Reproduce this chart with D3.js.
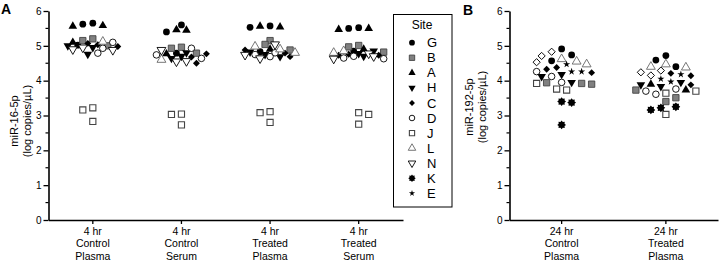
<!DOCTYPE html>
<html><head><meta charset="utf-8">
<script src="https://cdn.jsdelivr.net/npm/d3@7"></script>
<style>
body{margin:0;background:#fff}
svg{display:block}
text{font-family:"Liberation Sans",Arial,sans-serif;fill:#000}
</style>
</head><body><svg id="chart" width="720" height="262"></svg>
<script>
// ---------- categories / ticks ----------
const categoriesA = ["4 hr|Control|Plasma","4 hr|Control|Serum","4 hr|Treated|Plasma","4 hr|Treated|Serum"];
const categoriesB = ["24 hr|Control|Plasma","24 hr|Treated|Plasma"];
const yTicks = [0,1,2,3,4,5,6];
const legendSites = ["G","B","A","H","C","D","J","L","N","K","E"];
const yLabelA = ["miR-16-5p","(log copies/\u00b5L)"];
const yLabelB = ["miR-192-5p","(log copies/\u00b5L)"];

// ---------- Panel A (miR-16-5p): values per site, one list per category ----------
const A_G = [[5.62,5.65,5.02],[5.60,5.40,4.79],[5.53,5.57,4.83],[5.50,5.52,4.85]];
const A_B = [[5.20,5.15,5.00],[4.96,4.93,4.79],[5.15,5.04,4.88],[4.97,4.82,5.01]];
const A_A = [[5.56,5.58,5.10],[5.45,5.46,4.77],[5.56,5.54,4.90],[5.47,5.50,4.90]];
const A_H = [[4.76,4.95,5.00],[4.64,4.80,4.70],[4.69,4.75,4.82],[4.85,4.70,4.78]];
const A_C = [[5.07,4.98,5.03],[4.50,4.77,4.68],[4.88,4.69,4.79],[4.76,4.73,4.73]];
const A_D = [[4.79,5.10,4.93],[4.93,4.74,4.64],[4.69,4.80,4.75],[4.65,4.63,4.70]];
const A_J = [[3.22,3.16,2.83],[3.03,3.04,2.73],[3.11,3.08,2.80],[3.08,3.03,2.75]];
const A_L = [[5.12],[4.60],[4.90,4.98,4.80],[4.85,4.80]];
const A_N = [[4.90,4.88,4.95],[4.56,4.55,4.88],[5.04,4.74,4.64],[4.63,4.78,4.70]];

// ---------- Panel B (miR-192-5p) ----------
const B_G = [[4.74,4.91,4.57],[4.59,4.72,4.40]];
const B_F = [[4.71,4.83,4.53],[4.24,4.15,4.29]];   // open diamond (not listed in legend)
const B_L = [[4.47,4.55,4.62],[4.38,4.40,4.47]];
const B_E = [[4.26,4.47,4.26],[3.97,4.05,4.18]];
const B_C = [[4.23,4.33,4.38],[4.14,4.21,3.88]];
const B_D = [[4.12,4.26,3.95],[3.76,3.70,3.61]];
const B_H = [[3.95,4.12,4.18],[3.88,3.95,3.83]];
const B_A = [[],[3.73,3.90]];
const B_B = [[3.90,3.92,3.94],[3.51,3.73,3.40]];
const B_J = [[3.92,3.73,3.76],[3.64,3.70,3.03]];
const B_K = [[3.40,3.37,2.73],[3.22,3.16,3.25]];

const panelASeries = [["G",A_G],["B",A_B],["A",A_A],["H",A_H],["C",A_C],["D",A_D],["J",A_J],["L",A_L],["N",A_N]];
const panelBSeries = [["F",B_F],["G",B_G],["L",B_L],["E",B_E],["C",B_C],["D",B_D],["H",B_H],["A",B_A],["B",B_B],["J",B_J],["K",B_K]];

// ---------- marker styles ----------
const GREY = "#808080";
function splatPath(r){
  const pts=[];const n=8;
  for(let i=0;i<2*n;i++){const a=Math.PI*i/n - Math.PI/2;const rr=i%2?r*0.72:r;pts.push([rr*Math.cos(a),rr*Math.sin(a)]);}
  return "M"+pts.map(p=>p[0].toFixed(2)+","+p[1].toFixed(2)).join("L")+"Z";
}
function drawMarker(g, site, s){ // s = scale factor
  const sym=(type,size)=>d3.symbol().type(type).size(size*s*s)();
  switch(site){
    case "G": g.append("path").attr("d",sym(d3.symbolCircle,36)).attr("fill","#000");break;
    case "B": g.append("path").attr("d",sym(d3.symbolSquare,40)).attr("fill",GREY).attr("stroke","#444").attr("stroke-width",0.9);break;
    case "A": g.append("path").attr("d",sym(d3.symbolTriangle,32)).attr("fill","#000");break;
    case "H": g.append("path").attr("d",sym(d3.symbolTriangle,32)).attr("fill","#000").attr("transform","rotate(180)");break;
    case "C": g.append("path").attr("d",sym(d3.symbolSquare,24)).attr("fill","#000").attr("transform","rotate(45)");break;
    case "D": g.append("path").attr("d",sym(d3.symbolCircle,34)).attr("fill","#fff").attr("stroke","#000").attr("stroke-width",0.9);break;
    case "J": g.append("path").attr("d",sym(d3.symbolSquare,38)).attr("fill","#fff").attr("stroke","#444").attr("stroke-width",1.1);break;
    case "L": g.append("path").attr("d",sym(d3.symbolTriangle,34)).attr("fill","#fff").attr("stroke","#666").attr("stroke-width",0.9);break;
    case "N": g.append("path").attr("d",sym(d3.symbolTriangle,34)).attr("fill","#fff").attr("stroke","#000").attr("stroke-width",0.9).attr("transform","rotate(180)");break;
    case "K": g.append("path").attr("d",splatPath(4.4*s)).attr("fill","#000");break;
    case "E": g.append("path").attr("d",sym(d3.symbolStar,16)).attr("fill","#000");break;
    case "F": g.append("path").attr("d",sym(d3.symbolSquare,26)).attr("fill","#fff").attr("stroke","#000").attr("stroke-width",0.9).attr("transform","rotate(45)");break;
  }
}

const svg=d3.select("#chart");
const y=d3.scaleLinear().domain([0,6]).range([220,11]);

// compact swarm layout computed from the values (overlap allowed like the original)
function swarm(points, minDist, maxK){
  const sorted=points.slice().sort((a,b)=>b.v-a.v);
  const placed=[];
  sorted.forEach((p,i)=>{
    const py=y(p.v);
    const offs=[0];for(let k=1;k<=maxK;k++){ if(i%2){offs.push(-k*5,k*5);} else {offs.push(k*5,-k*5);} }
    let best=null,bestC=Infinity;
    for(const o of offs){
      let c=0;
      placed.forEach(q=>{ const d=Math.hypot(q.dx-o,q.py-py); if(d<minDist) c+=minDist-d; });
      if(c===0){best=o;bestC=0;break;}
      if(c<bestC){bestC=c;best=o;}
    }
    placed.push({...p,dx:best,py});
  });
  return placed;
}

function drawPanel(opts){
  const {cats,series,x0,x1,labels,labelY}=opts;
  const x=d3.scaleBand().domain(cats).range([x0,x1]);
  const g=svg.append("g");
  // y axis
  const ya=g.append("g").attr("transform",`translate(${x0},0)`)
    .call(d3.axisLeft(y).tickValues(yTicks).tickSize(5).tickSizeOuter(0).tickPadding(2).tickFormat(d3.format("d")));
  ya.select(".domain").attr("stroke-width",1.6);
  ya.selectAll(".tick line").attr("stroke-width",1.3);
  ya.selectAll(".tick text").style("font-size","10px").style("font-family","Liberation Sans, Arial, sans-serif");
  const minor=d3.range(0.5,6,1);
  g.selectAll(null).data(minor).join("line").attr("x1",x0-3).attr("x2",x0).attr("y1",d=>y(d)).attr("y2",d=>y(d)).attr("stroke","#000").attr("stroke-width",1.2);
  // x axis
  const xa=g.append("g").attr("transform",`translate(0,${y(0)})`)
    .call(d3.axisBottom(x).tickSize(4).tickSizeOuter(0).tickFormat(""));
  xa.select(".domain").attr("stroke-width",1.6);
  xa.selectAll(".tick line").attr("stroke-width",1.3);
  cats.forEach(c=>{
    const lines=c.split("|");
    const t=g.append("text").attr("text-anchor","middle").style("font-size","10.5px");
    lines.forEach((l,i)=>t.append("tspan").attr("x",x(c)+x.bandwidth()/2).attr("y",234.5+i*12.7).text(l));
  });
  // y label
  labels.forEach((l,i)=>{
    g.append("text").attr("transform",`translate(${opts.labelX+i*12.5},${labelY}) rotate(-90)`)
      .attr("text-anchor","middle").style("font-size","11px").text(l);
  });
  // points
  cats.forEach((c,ci)=>{
    const pts=[];
    series.forEach(([site,arr])=>{(arr[ci]||[]).forEach(v=>pts.push({site,v}));});
    const laid=swarm(pts,opts.minDist,opts.maxK);
    const cx=x(c)+x.bandwidth()/2;
    const order=series.map(s=>s[0]);
    laid.sort((a,b)=>order.indexOf(a.site)-order.indexOf(b.site));
    laid.forEach(p=>{
      const mg=g.append("g").attr("transform",`translate(${cx+p.dx},${p.py})`);
      drawMarker(mg,p.site,1);
    });
  });
}

drawPanel({cats:categoriesA,series:panelASeries,x0:48.5,x1:403,labels:yLabelA,labelY:121,labelX:18,minDist:6.2,maxK:5});
drawPanel({cats:categoriesB,series:panelBSeries,x0:509.5,x1:718,labels:yLabelB,labelY:107,labelX:473,minDist:8,maxK:6});

// panel letters
svg.append("text").attr("x",1).attr("y",14).style("font-size","14px").style("font-weight","bold").text("A");
svg.append("text").attr("x",463).attr("y",15).style("font-size","14px").style("font-weight","bold").text("B");

// legend
const lg=svg.append("g");
lg.append("rect").attr("x",393.5).attr("y",14.5).attr("width",58.5).attr("height",192.5).attr("fill","#fff").attr("stroke","#000").attr("stroke-width",1);
lg.append("text").attr("x",422).attr("y",29).attr("text-anchor","middle").style("font-size","12px").text("Site");
legendSites.forEach((s,i)=>{
  const cy=42.7+i*15.06;
  const mg=lg.append("g").attr("transform",`translate(412,${cy})`);
  drawMarker(mg,s,0.85);
  lg.append("text").attr("x",427).attr("y",cy+4.6).style("font-size","13px").text(s);
});
</script>
</body></html>
